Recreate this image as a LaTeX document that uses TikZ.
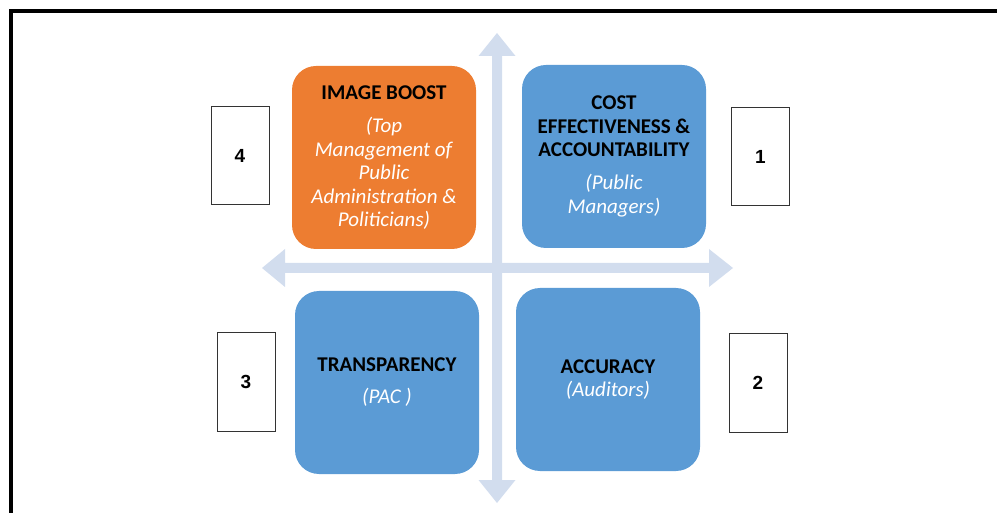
\documentclass[tikz,border=0pt]{standalone}
\usepackage{fontspec}
\setmainfont{Carlito}
\newfontfamily\numfont{Liberation Sans}
\definecolor{quadorange}{HTML}{ED7D31}
\definecolor{quadblue}{HTML}{5B9BD5}
\definecolor{axiscol}{HTML}{D2DDEE}
% white italic sub-line inside a quadrant
\newcommand\subl[1]{\textcolor{white}{\textit{#1}}}
\begin{document}
\begin{tikzpicture}[x=1pt,y=-1pt,
  quad/.style={rounded corners=24pt, inner sep=0pt, minimum width=184pt,
    minimum height=183pt, align=center, font=\fontsize{21}{23.5}\selectfont},
  numbox/.style={draw=black!80, line width=1pt, inner sep=0pt,
    minimum width=58pt, minimum height=98pt,
    font=\numfont\bfseries\fontsize{19}{22}\selectfont}]
\useasboundingbox (0,0) rectangle (997,513);
% outer frame: top and left rules
\draw[line width=4pt] (11,513) -- (11,11) -- (997,11);
% axes as double-headed block arrows
\fill[axiscol] (497,33) -- (515.5,56) -- (502,56) -- (502,480) -- (515.5,480)
  -- (497,503) -- (478.5,480) -- (492,480) -- (492,56) -- (478.5,56) -- cycle;
\fill[axiscol] (262,268) -- (285,249) -- (285,263) -- (709,263) -- (709,249)
  -- (733,268) -- (709,287) -- (709,273) -- (285,273) -- (285,287) -- cycle;
% quadrants
\node[quad, fill=quadorange] (imgboost) at (384,157.5)
  {\textbf{IMAGE BOOST}\\[10pt]
   \subl{(Top}\\ \subl{Management of}\\ \subl{Public}\\
   \subl{Administration \&}\\ \subl{Politicians)}};
\node[quad, fill=quadblue] (costeff) at (614,156.5)
  {\textbf{COST}\\ \textbf{EFFECTIVENESS \&}\\ \textbf{ACCOUNTABILITY}\\[9.5pt]
   \subl{(Public}\\ \subl{Managers)}};
\node[quad, fill=quadblue] (transp) at (387,382.5)
  {\textbf{TRANSPARENCY}\\[8.5pt] \subl{(PAC )}};
\node[quad, fill=quadblue] (accur) at (608,379.5)
  {\textbf{ACCURACY}\\ \subl{(Auditors)}};
% rank boxes
\node[numbox] (n4) at (240,156) {4};
\node[numbox] (n1) at (760.5,157) {1};
\node[numbox] (n3) at (246,382) {3};
\node[numbox] (n2) at (758,383) {2};
\end{tikzpicture}
\end{document}
